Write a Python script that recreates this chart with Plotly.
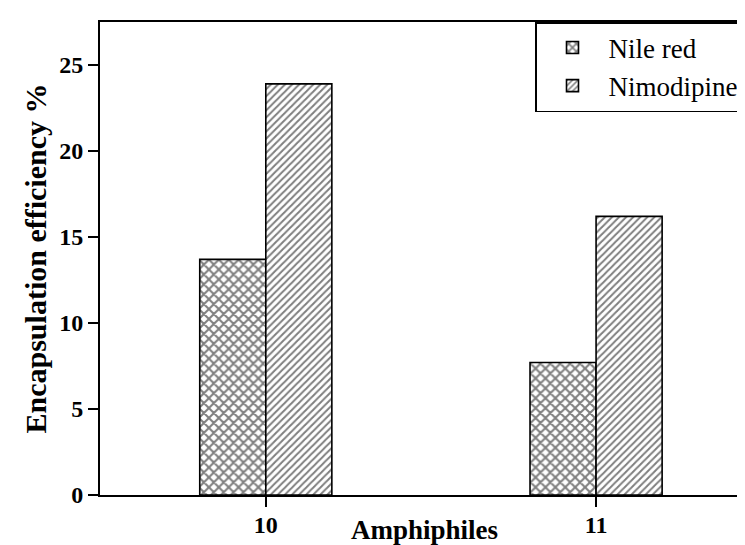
import plotly.graph_objects as go

categories = ["10", "11"]
nile_red = [13.7, 7.7]
nimodipine = [23.9, 16.2]
y_ticks = [0, 5, 10, 15, 20, 25]

FONT = "Liberation Serif, Times New Roman, serif"

fig = go.Figure()
fig.add_trace(go.Bar(
    x=categories, y=nile_red, name="Nile red",
    marker=dict(color="white", line=dict(color="black", width=1.6),
                pattern=dict(shape="x", fgcolor="black", bgcolor="white",
                             size=7, solidity=0.5, fillmode="overlay")),
))
fig.add_trace(go.Bar(
    x=categories, y=nimodipine, name="Nimodipine",
    marker=dict(color="white", line=dict(color="black", width=1.6),
                pattern=dict(shape="/", fgcolor="black", bgcolor="white",
                             size=5, solidity=0.4, fillmode="overlay")),
))

fig.update_layout(
    width=745, height=545,
    margin=dict(l=92, r=5, t=14, b=58),
    paper_bgcolor="white", plot_bgcolor="white",
    barmode="group", bargap=0.6, bargroupgap=0,
    font=dict(family=FONT, color="black"),
    showlegend=True,
    legend=dict(x=(527 - 92) / 648, y=1, xanchor="left", yanchor="top",
                bgcolor="white", bordercolor="black", borderwidth=1.5,
                font=dict(size=27, family=FONT), tracegroupgap=0,
                itemwidth=62),
    xaxis=dict(
        type="category", range=[-0.502, 1.46],
        showline=True, linecolor="black", linewidth=2, mirror=True,
        ticks="outside", ticklen=10, tickwidth=2, tickcolor="black",
        ticklabelstandoff=-3,
        tickfont=dict(size=24, family=FONT, weight="bold"),
        showgrid=False, zeroline=False,
    ),
    yaxis=dict(
        range=[0, 27.5], tickvals=y_ticks,
        showline=True, linecolor="black", linewidth=2,
        ticks="outside", ticklen=10, tickwidth=2, tickcolor="black",
        tickfont=dict(size=24, family=FONT, weight="bold"),
        showgrid=False, zeroline=False,
    ),
    annotations=[
        dict(text="<b>Amphiphiles</b>", xref="paper", yref="paper",
             x=0.5, y=-(522 - 487) / 473, xanchor="center", yanchor="middle",
             showarrow=False, font=dict(size=27, family=FONT)),
        dict(text="<b>Encapsulation efficiency %</b>", xref="paper", yref="paper",
             x=-(92 - 27) / 648, y=0.5, xanchor="center", yanchor="middle",
             textangle=-90, showarrow=False, font=dict(size=30, family=FONT)),
    ],
)

fig.write_html("out.html")
